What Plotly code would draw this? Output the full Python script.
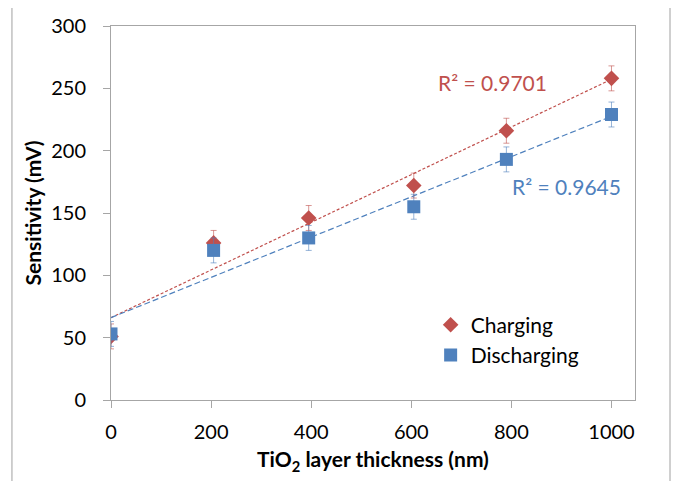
import numpy as np
import plotly.graph_objects as go

thickness = [0, 205, 395, 605, 790, 1000]
charging = [51, 126, 146, 172, 216, 258]
discharging = [53, 120, 130, 155, 193, 229]
charging_err = [10, 10, 10, 10, 10, 10]
discharging_err = [10, 10, 10, 10, 10, 10]
r2_charging = "R² = 0.9701"
r2_discharging = "R² = 0.9645"
x_ticks = [0, 200, 400, 600, 800, 1000]
y_ticks = [0, 50, 100, 150, 200, 250, 300]

RED = "#C0504D"
BLUE = "#4F81BD"
FONT = "Lato"

fig = go.Figure()

# trend lines
xs = np.array([0, 1000])
for ys, col, dash in [(charging, RED, "3px,2px"), (discharging, BLUE, "6px,3px")]:
    m, b = np.polyfit(thickness, ys, 1)
    fig.add_trace(go.Scatter(x=xs, y=m * xs + b, mode="lines",
                             line=dict(color=col, width=1.2, dash=dash),
                             showlegend=False, hoverinfo="skip"))

fig.add_trace(go.Scatter(
    x=thickness, y=charging, mode="markers", name="Charging",
    marker=dict(symbol="diamond", size=12, color=RED),
    error_y=dict(type="data", array=charging_err, visible=True,
                 color="rgba(192,80,77,0.6)", thickness=1, width=3)))
fig.add_trace(go.Scatter(
    x=thickness, y=discharging, mode="markers", name="Discharging",
    marker=dict(symbol="square", size=13, color=BLUE),
    error_y=dict(type="data", array=discharging_err, visible=True,
                 color="rgba(79,129,189,0.6)", thickness=1, width=3)))

fig.add_annotation(x=0.729, y=0.85, xref="paper", yref="paper", text=r2_charging,
                   xanchor="center", yanchor="middle",
                   showarrow=False, font=dict(family=FONT, size=21, color=RED))
fig.add_annotation(x=0.870, y=0.57, xref="paper", yref="paper", text=r2_discharging,
                   xanchor="center", yanchor="middle",
                   showarrow=False, font=dict(family=FONT, size=21, color=BLUE))

# outer chart border
fig.add_shape(type="rect", xref="paper", yref="paper",
              x0=-0.189, x1=1.0668, y0=-0.3, y1=1.0508,
              line=dict(color="#A0A0A0", width=1), layer="below")

axis_common = dict(showgrid=False, zeroline=False, showline=True, mirror=True,
                   linecolor="#A6A6A6", linewidth=1, ticks="outside",
                   ticklen=7, tickcolor="#A6A6A6",
                   tickfont=dict(family=FONT, size=20, color="#000"))

fig.update_layout(
    width=683, height=481,
    margin=dict(l=103, r=56, t=18, b=89, autoexpand=False),
    paper_bgcolor="white", plot_bgcolor="white",
    xaxis=dict(range=[0, 1047], tickvals=x_ticks, ticklabelstandoff=7,
               title=dict(text="<b>TiO<sub>2</sub> layer thickness (nm)</b>",
                          font=dict(family=FONT, size=21, color="#000"), standoff=10),
               **axis_common),
    yaxis=dict(range=[0, 300], tickvals=y_ticks, ticklabelstandoff=13,
               title=dict(text="<b>Sensitivity (mV)</b>",
                          font=dict(family=FONT, size=21, color="#000"), standoff=3),
               **axis_common),
    legend=dict(x=0.61, y=0.255, xanchor="left", yanchor="top",
                bgcolor="rgba(0,0,0,0)", font=dict(family=FONT, size=21, color="#000"),
                itemwidth=30),
    showlegend=True,
)

fig.write_html("out.html")
